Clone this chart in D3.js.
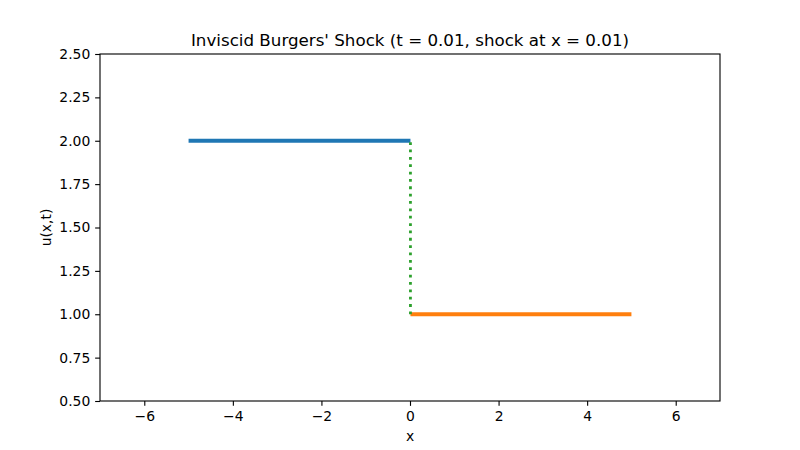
<!DOCTYPE html>
<html>
<head>
<meta charset="utf-8">
<script src="https://cdn.jsdelivr.net/npm/d3@7"></script>
<style>
  body { margin: 0; background: #fff; }
  text { font-family: "DejaVu Sans", sans-serif; }
</style>
</head>
<body>
<div id="chart"></div>
<script>
// data
var leftX = [-5, 0.01], leftU = [2, 2];
var rightX = [0.01, 5], rightU = [1, 1];
var shockX = [0.01, 0.01], shockU = [1, 2];
var xTicks = [-6, -4, -2, 0, 2, 4, 6];
var yTicks = [0.5, 0.75, 1.0, 1.25, 1.5, 1.75, 2.0, 2.25, 2.5];

var margin = {top: 54, right: 80, bottom: 49, left: 100},
    width = 800 - margin.left - margin.right,
    height = 450 - margin.top - margin.bottom;

var svg = d3.select("#chart")
  .append("svg")
    .attr("width", 800)
    .attr("height", 450)
  .append("g")
    .attr("transform", "translate(" + margin.left + "," + margin.top + ")")

var x = d3.scaleLinear().domain([-7, 7]).range([0, width])
var y = d3.scaleLinear().domain([0.5, 2.5]).range([height, 0])

var line = d3.line()
  .x(function (d) { return x(d[0]) })
  .y(function (d) { return y(d[1]) })

function pairs(xs, ys) { return xs.map(function (v, i) { return [v, ys[i]] }) }

svg.append("path")
  .datum(pairs(leftX, leftU))
  .attr("d", line)
  .attr("fill", "none")
  .attr("stroke", "#1f77b4")
  .attr("stroke-width", 4.17)

svg.append("path")
  .datum(pairs(rightX, rightU))
  .attr("d", line)
  .attr("fill", "none")
  .attr("stroke", "#ff7f0e")
  .attr("stroke-width", 4.17)

svg.append("path")
  .datum(pairs(shockX, shockU))
  .attr("d", line)
  .attr("fill", "none")
  .attr("stroke", "#2ca02c")
  .attr("stroke-width", 2.78)
  .attr("stroke-dasharray", "2.78,4.58")

// axes
var xAxis = svg.append("g")
  .attr("transform", "translate(0," + height + ")")
  .call(d3.axisBottom(x).tickValues(xTicks).tickSize(4.86).tickPadding(4.86)
    .tickFormat(function (d) { return d < 0 ? "\u2212" + Math.abs(d) : d }))
var yAxis = svg.append("g")
  .call(d3.axisLeft(y).tickValues(yTicks).tickSize(4.86).tickPadding(4.86)
    .tickFormat(d3.format(".2f")))

svg.selectAll(".domain").remove()
svg.selectAll(".tick line").attr("stroke", "#000").attr("stroke-width", 1.11)
svg.selectAll(".tick text").attr("font-size", "13.9px").attr("fill", "#000")
  .attr("font-family", "DejaVu Sans, sans-serif")

svg.append("rect")
  .attr("width", width)
  .attr("height", height)
  .attr("fill", "none")
  .attr("stroke", "#000")
  .attr("stroke-width", 1.11)

svg.append("text")
  .attr("text-anchor", "middle")
  .attr("x", width / 2)
  .attr("y", height + 40)
  .attr("font-size", "13.9px")
  .text("x")

svg.append("text")
  .attr("text-anchor", "middle")
  .attr("transform", "rotate(-90)")
  .attr("x", -height / 2)
  .attr("y", -49)
  .attr("font-size", "13.9px")
  .text("u(x,t)")

svg.append("text")
  .attr("text-anchor", "middle")
  .attr("x", width / 2)
  .attr("y", -8)
  .attr("font-size", "16.7px")
  .text("Inviscid Burgers' Shock (t = 0.01, shock at x = 0.01)")
</script>
</body>
</html>
